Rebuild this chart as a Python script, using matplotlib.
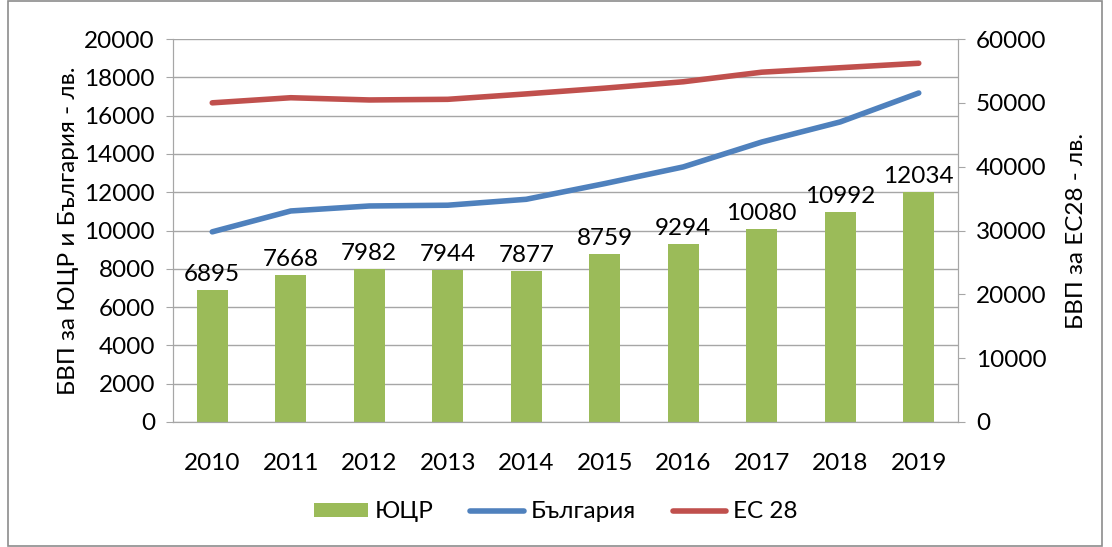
import matplotlib

matplotlib.use("Agg")
import matplotlib.pyplot as plt
import numpy as np
from matplotlib.patches import Rectangle

years = ["2010", "2011", "2012", "2013", "2014", "2015", "2016", "2017", "2018", "2019"]
yucr = [6895, 7668, 7982, 7944, 7877, 8759, 9294, 10080, 10992, 12034]
bulgaria = [9930, 11020, 11280, 11320, 11630, 12450, 13320, 14620, 15670, 17180]
eu28 = [50000, 50800, 50450, 50550, 51400, 52300, 53300, 54800, 55500, 56200]

FS = 17.5
plt.rcParams["font.family"] = ["Lato", "DejaVu Sans"]
plt.rcParams["font.size"] = FS

GREEN = "#9BBB59"
BLUE = "#4F81BD"
RED = "#C0504D"
GRID = "#A6A6A6"

fig = plt.figure(figsize=(11.12, 5.47), dpi=100)
ax = fig.add_axes([173 / 1112, 1 - 422 / 547, 785 / 1112, 383 / 547])
ax2 = ax.twinx()

x = np.arange(len(years))
bars = ax.bar(x, yucr, width=0.4, color=GREEN, label="ЮЦР", zorder=2)
for xi, v in zip(x, yucr):
    ax.text(xi, v + 250, str(v), ha="center", va="bottom", fontsize=FS, zorder=4)
lb, = ax.plot(x, bulgaria, color=BLUE, lw=4, solid_capstyle="round", label="България", zorder=3)
lr, = ax2.plot(x, eu28, color=RED, lw=4, solid_capstyle="round", label="ЕС 28", zorder=3)

ax.set_xlim(-0.5, len(years) - 0.5)
ax.set_ylim(0, 20000)
ax.set_yticks(np.arange(0, 20001, 2000))
ax2.set_ylim(0, 60000)
ax2.set_yticks(np.arange(0, 60001, 10000))
ax.set_xticks(x)
ax.set_xticklabels(years)
ax.grid(axis="y", color=GRID, lw=1, zorder=0)
ax.set_axisbelow(True)

for a in (ax, ax2):
    for side, sp in a.spines.items():
        sp.set_color(GRID)
    a.spines["top"].set_visible(False)
ax.tick_params(axis="y", length=5, color=GRID, pad=8)
ax.tick_params(axis="x", length=0, pad=22)
ax2.tick_params(axis="y", length=5, color=GRID, pad=8)

ax.set_ylabel("БВП за ЮЦР и България - лв.", fontsize=FS, labelpad=4)
ax2.set_ylabel("БВП за ЕС28 - лв.", fontsize=FS, labelpad=14)

fig.legend(handles=[bars, lb, lr], loc="center", bbox_to_anchor=(0.5, 1 - 512 / 547),
           ncol=3, frameon=False, fontsize=FS, handlelength=2.2, handleheight=0.55,
           handletextpad=0.3, columnspacing=1.5)

fig.patches.append(Rectangle((8 / 1112, 0.002), 1094 / 1112, 0.996, transform=fig.transFigure,
                             fill=False, edgecolor="#8C8C8C", lw=1.2))

fig.savefig("out.png", dpi=100)
